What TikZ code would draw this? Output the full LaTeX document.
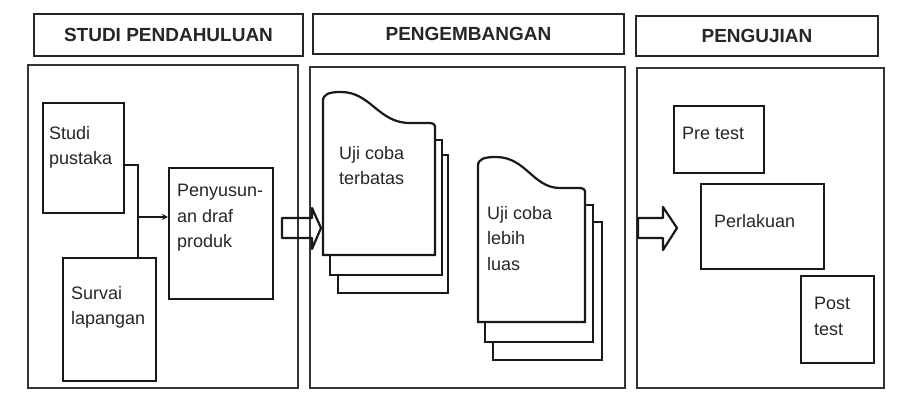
\documentclass[tikz,border=0pt]{standalone}
\usepackage{fontspec}
\setmainfont{Liberation Sans}
\usetikzlibrary{arrows.meta}
\newcommand\mydocpage[4]{%
  \draw[docline] (#1,#4) -- (#1,#3+9) .. controls (#1,#3+2) and (#1+6,#3) .. (#1+18,#3)
    .. controls (#1+48,#3) and (#1+55,#3+31) .. (#2-25,#3+31)
    .. controls (#2-8,#3+31) and (#2,#3+30) .. (#2,#3+34) -- (#2,#4) -- cycle;}
\begin{document}
\begin{tikzpicture}[x=1pt,y=-1pt,
  panel/.style={draw=black!80, line width=1.9pt},
  header/.style={draw=black!85, line width=2pt, anchor=north west, inner sep=0pt},
  htext/.style={font=\fontsize{19}{21}\selectfont\bfseries, text=black!85},
  box/.style={draw=black!90, line width=2.4pt, anchor=north west, inner sep=0pt, fill=white},
  txt/.style={font=\fontsize{18}{25.5}\selectfont, text=black!85, align=left, anchor=north west, inner sep=0pt},
  docline/.style={draw=black!90, line width=2.2pt, fill=white},
  conn/.style={draw=black!90, line width=2pt},
  blockarrow/.style={draw=black!90, line width=2.2pt, line join=round}]
\useasboundingbox (0,0) rectangle (901,408);
\fill[white] (0,0) rectangle (901,408);

% headers
\node[header, minimum width=269pt, minimum height=42pt] (h1) at (33,13) {};
\node[htext] (h1t) at (h1.center) {STUDI PENDAHULUAN};
\node[header, minimum width=311pt, minimum height=40pt] (h2) at (312,13) {};
\node[htext] (h2t) at (h2.center) {PENGEMBANGAN};
\node[header, minimum width=242pt, minimum height=40pt] (h3) at (635,15) {};
\node[htext] (h3t) at (h3.center) {PENGUJIAN};

% panels
\draw[panel] (28,65) rectangle (298,388);
\draw[panel] (310,67) rectangle (625,388);
\draw[panel] (637,68) rectangle (884,388);

% panel 1
\node[box, minimum width=81pt, minimum height=110pt] (sp) at (42,102) {};
\node[txt] (spt) at (49,126) {Studi\\pustaka};
\node[box, minimum width=93pt, minimum height=123pt] (sv) at (62,257) {};
\node[txt] (svt) at (71,286) {Survai\\lapangan};
\node[box, minimum width=104pt, minimum height=131pt] (pd) at (168,167) {};
\node[txt] (pdt) at (177,184) {Penyusun-\\an draf\\produk};
\coordinate (j) at (138,217);
\draw[conn] ([yshift=-7pt]sp.east) -| (j |- sv.north);
\draw[conn, -{Stealth[length=6pt,width=6pt]}] (j) -- (pd.west |- j);

% block arrow 1
\draw[blockarrow] (282,218) -- (312,218) -- (312,208) -- (321,228) -- (312,249) -- (312,238) -- (282,238) -- cycle;

% panel 2 documents
\draw[docline] (338,155) rectangle (448,293);
\draw[docline] (330,140) rectangle (442,275);
\mydocpage{323}{435}{92}{255}
\node[txt] (d1t) at (339,146) {Uji coba\\terbatas};
\draw[docline] (493,222) rectangle (602,360);
\draw[docline] (485,205) rectangle (593,342);
\mydocpage{478}{585}{157}{322}
\node[txt] (d2t) at (487,206) {Uji coba\\lebih\\luas};

% block arrow 2
\draw[blockarrow] (638,218) -- (663,218) -- (663,207) -- (677,228) -- (663,250) -- (663,238) -- (638,238) -- cycle;

% panel 3
\node[box, minimum width=90pt, minimum height=67pt] (pre) at (673,105) {};
\node[txt] (pret) at (682,127) {Pre test};
\node[box, minimum width=123pt, minimum height=85pt] (per) at (700,183) {};
\node[txt] (pert) at (714,214) {Perlakuan};
\node[box, minimum width=73pt, minimum height=87pt] (post) at (800,275) {};
\node[txt] (postt) at (814,297) {Post\\test};
\end{tikzpicture}
\end{document}
